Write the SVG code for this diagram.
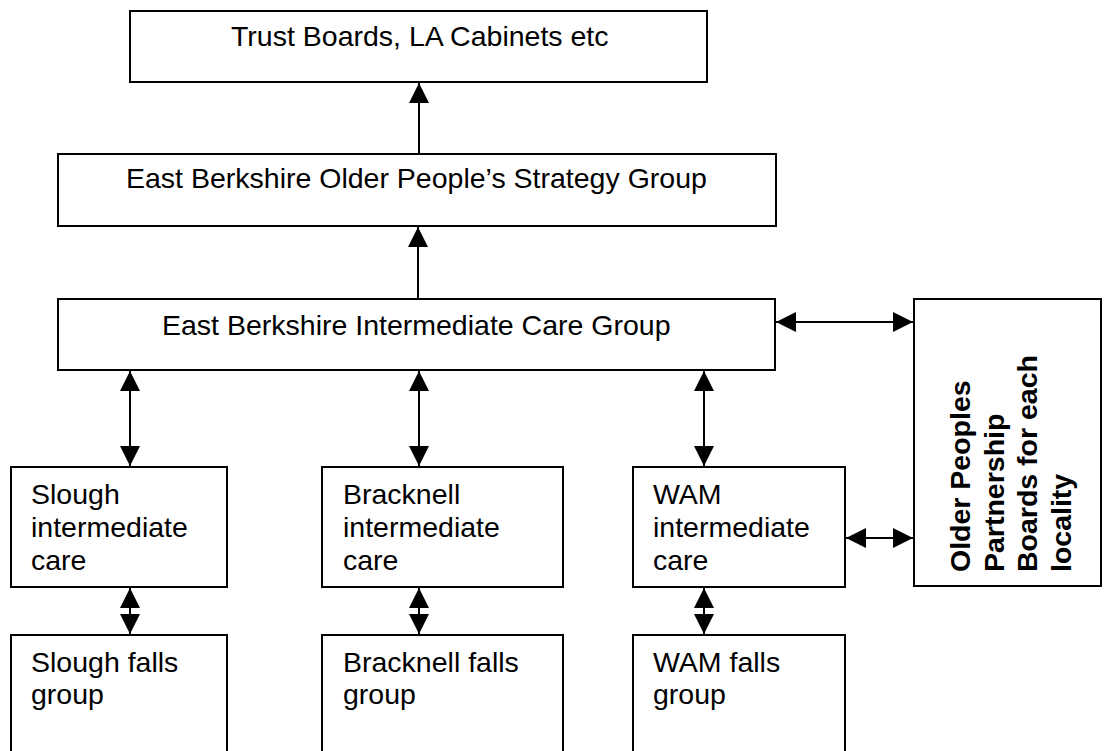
<svg xmlns="http://www.w3.org/2000/svg" width="1116" height="751" viewBox="0 0 1116 751">
<style>
  .box { fill: #ffffff; stroke: #000000; stroke-width: 2; }
  .t { font-family: "Liberation Sans", Arial, sans-serif; font-size: 28.5px; fill: #000000; }
  .tb { font-family: "Liberation Sans", Arial, sans-serif; font-size: 28.5px; font-weight: bold; fill: #000000; }
  .c { stroke: #000000; stroke-width: 2; fill: none; }
  .one { marker-end: url(#ah); }
  .two { marker-start: url(#ah); marker-end: url(#ah); }
</style>
<defs>
  <marker id="ah" markerUnits="userSpaceOnUse" markerWidth="20" markerHeight="20" refX="20" refY="10" orient="auto-start-reverse" viewBox="0 0 20 20">
    <path d="M0,0 L20,10 L0,20 Z" fill="#000000"/>
  </marker>
</defs>
<rect width="1116" height="751" fill="#ffffff"/>

<g id="trust-boards">
  <rect class="box" x="130" y="11" width="577" height="71"/>
  <text class="t" x="231" y="46">Trust Boards, LA Cabinets etc</text>
</g>
<g id="strategy-group">
  <rect class="box" x="58" y="154" width="718" height="72"/>
  <text class="t" x="126" y="188">East Berkshire Older People’s Strategy Group</text>
</g>
<g id="ic-group">
  <rect class="box" x="58" y="299" width="717" height="71"/>
  <text class="t" x="162" y="335">East Berkshire Intermediate Care Group</text>
</g>
<g id="partnership-boards">
  <rect class="box" x="914" y="299" width="187" height="287"/>
  <text class="tb" transform="translate(970 572) rotate(-90)">
    <tspan x="0" y="0">Older Peoples</tspan>
    <tspan x="0" y="33.5">Partnership</tspan>
    <tspan x="0" y="67">Boards for each</tspan>
    <tspan x="0" y="100.5">locality</tspan>
  </text>
</g>
<g id="slough-ic">
  <rect class="box" x="11" y="467" width="216" height="120"/>
  <text class="t"><tspan x="31" y="504">Slough</tspan><tspan x="31" y="537">intermediate</tspan><tspan x="31" y="570">care</tspan></text>
</g>
<g id="bracknell-ic">
  <rect class="box" x="322" y="467" width="241" height="120"/>
  <text class="t"><tspan x="343" y="504">Bracknell</tspan><tspan x="343" y="537">intermediate</tspan><tspan x="343" y="570">care</tspan></text>
</g>
<g id="wam-ic">
  <rect class="box" x="633" y="467" width="212" height="120"/>
  <text class="t"><tspan x="653" y="504">WAM</tspan><tspan x="653" y="537">intermediate</tspan><tspan x="653" y="570">care</tspan></text>
</g>
<g id="slough-falls">
  <rect class="box" x="11" y="635" width="216" height="130"/>
  <text class="t"><tspan x="31" y="672">Slough falls</tspan><tspan x="31" y="704">group</tspan></text>
</g>
<g id="bracknell-falls">
  <rect class="box" x="322" y="635" width="241" height="130"/>
  <text class="t"><tspan x="343" y="672">Bracknell falls</tspan><tspan x="343" y="704">group</tspan></text>
</g>
<g id="wam-falls">
  <rect class="box" x="633" y="635" width="212" height="130"/>
  <text class="t"><tspan x="653" y="672">WAM falls</tspan><tspan x="653" y="704">group</tspan></text>
</g>

<g id="connectors">
  <line class="c one" x1="419" y1="154" x2="419" y2="83"/>
  <line class="c one" x1="418" y1="299" x2="418" y2="227"/>
  <line class="c two" x1="130" y1="371" x2="130" y2="466"/>
  <line class="c two" x1="419" y1="371" x2="419" y2="466"/>
  <line class="c two" x1="704" y1="371" x2="704" y2="466"/>
  <line class="c two" x1="776" y1="322" x2="913" y2="322"/>
  <line class="c two" x1="846" y1="538" x2="913" y2="538"/>
  <line class="c two" x1="130" y1="588" x2="130" y2="634"/>
  <line class="c two" x1="419" y1="588" x2="419" y2="634"/>
  <line class="c two" x1="704" y1="588" x2="704" y2="634"/>
</g>
</svg>
